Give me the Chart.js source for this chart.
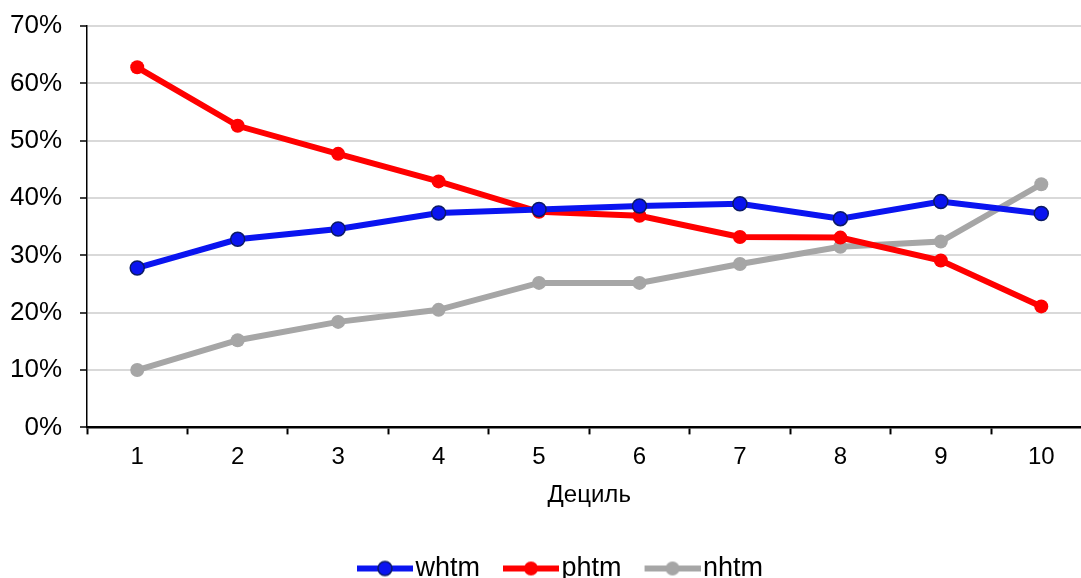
<!DOCTYPE html>
<html lang="ru">
<head>
  <meta charset="UTF-8">
  <title>Дециль</title>
  <script src="https://cdn.jsdelivr.net/npm/chart.js"></script>
  <style>
    html, body { margin: 0; background: #fff; overflow: hidden; width: 1081px; height: 578px; }
    canvas { display: block; }
  </style>
</head>
<body>
<canvas id="decileChart" width="1100" height="592"></canvas>
<script>
  // данные (в процентах)
  const deciles = ['1', '2', '3', '4', '5', '6', '7', '8', '9', '10'];
  const whtm = [27.8, 32.8, 34.6, 37.4, 38.0, 38.6, 39.0, 36.4, 39.4, 37.3];
  const phtm = [62.8, 52.6, 47.7, 42.9, 37.6, 36.9, 33.2, 33.1, 29.1, 21.1];
  const nhtm = [10.0, 15.2, 18.4, 20.5, 25.2, 25.2, 28.5, 31.5, 32.4, 42.4];
  const yTicks = [0, 10, 20, 30, 40, 50, 60, 70];

  // значок легенды: линия с кружком (с отступом слева)
  function legendIcon(color, border) {
    const c = document.createElement('canvas');
    c.width = 90; c.height = 18;
    const g = c.getContext('2d');
    g.strokeStyle = color; g.lineWidth = 6;
    g.beginPath(); g.moveTo(34, 9); g.lineTo(90, 9); g.stroke();
    g.fillStyle = color; g.beginPath(); g.arc(62, 9, 7, 0, Math.PI * 2); g.fill();
    if (border) { g.strokeStyle = border; g.lineWidth = 1.5; g.stroke(); }
    return c;
  }

  const font = size => ({ family: 'Liberation Sans', size: size });

  // легенда центрируется по видимой ширине, а не по холсту
  const legendShift = {
    id: 'legendShift',
    afterLayout: chart => { if (chart.legend) chart.legend.right -= 13; }
  };

  const ctx = document.getElementById('decileChart').getContext('2d');
  new Chart(ctx, {
    type: 'line',
    data: {
      labels: deciles,
      datasets: [
        { label: 'whtm', data: whtm, borderColor: '#0a14f0', backgroundColor: '#0a14f0',
          pointBorderColor: '#0b1a66', pointBorderWidth: 1.5, icon: legendIcon('#0a14f0', '#0b1a66') },
        { label: 'phtm', data: phtm, borderColor: '#ff0000', backgroundColor: '#ff0000',
          pointBorderColor: '#ff0000', pointBorderWidth: 0, icon: legendIcon('#ff0000') },
        { label: 'nhtm', data: nhtm, borderColor: '#a6a6a6', backgroundColor: '#a6a6a6',
          pointBorderColor: '#a6a6a6', pointBorderWidth: 0, icon: legendIcon('#a6a6a6') }
      ]
    },
    options: {
      responsive: false,
      animation: false,
      layout: { padding: { left: 10, right: 0, top: 26, bottom: 0 } },
      elements: {
        line: { borderWidth: 6, tension: 0 },
        point: { radius: 7, hoverRadius: 7 }
      },
      scales: {
        x: {
          offset: true,
          grid: { offset: true, drawOnChartArea: false, drawTicks: true, tickLength: 7, tickColor: '#000', tickWidth: 2 },
          border: { color: '#000', width: 2.5 },
          ticks: { color: '#000', font: font(24), padding: 9 },
          title: { display: true, text: 'Дециль', color: '#000', font: font(24), padding: { top: 0, bottom: 45 } }
        },
        y: {
          min: 0, max: 70,
          afterBuildTicks: axis => { axis.ticks = yTicks.map(v => ({ value: v })); },
          afterFit: axis => { axis.width = 77; axis.paddingTop = 0; axis.paddingBottom = 0; },
          grid: { color: '#d9d9d9', lineWidth: 2, tickLength: 7, tickColor: '#000', tickWidth: 1.5 },
          border: { color: '#000', width: 1.5 },
          ticks: { color: '#000', font: font(26), padding: 18, callback: v => v + '%' }
        }
      },
      plugins: {
        tooltip: { enabled: false },
        legend: {
          position: 'bottom',
          labels: {
            color: '#000',
            font: font(27),
            usePointStyle: true,
            pointStyleWidth: 68,
            boxHeight: 18,
            padding: 0,
            generateLabels: chart => chart.data.datasets.map((d, i) => ({
              text: d.label, pointStyle: d.icon, fontColor: '#000',
              strokeStyle: d.borderColor, fillStyle: d.borderColor, lineWidth: 0, datasetIndex: i
            }))
          }
        }
      }
    },
    plugins: [legendShift]
  });
</script>
</body>
</html>
